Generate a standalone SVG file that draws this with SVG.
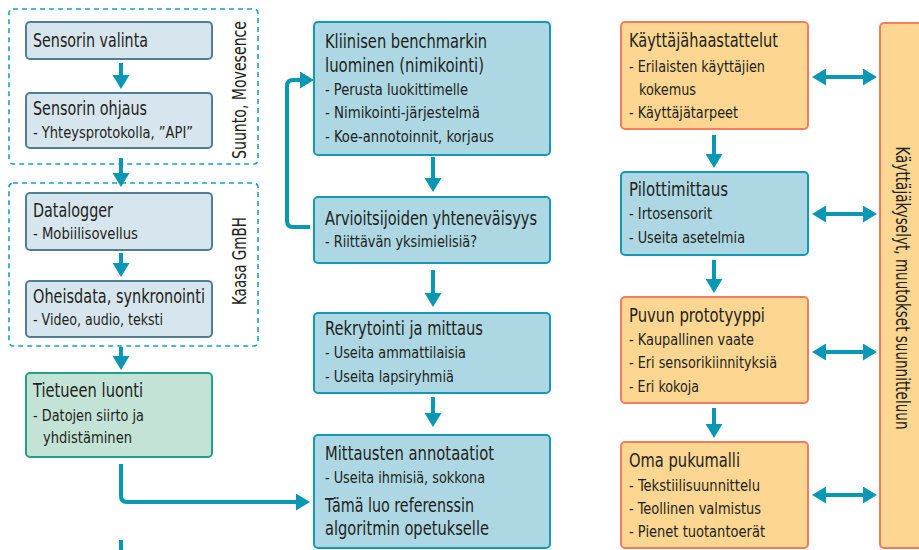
<svg xmlns="http://www.w3.org/2000/svg" width="919" height="550" viewBox="0 0 919 550">
<defs>
<style>
text{font-family:"DejaVu Sans Condensed","Liberation Sans Narrow","Liberation Sans",sans-serif;fill:#231f20}
.t{font-size:19px}
.s{font-size:16.5px}
.grey{fill:#d7e6ee;stroke:#4f7f93;stroke-width:2}
.blue{fill:#acd7e3;stroke:#1598b3;stroke-width:2}
.org{fill:#fdd691;stroke:#f07d60;stroke-width:2}
.grn{fill:#c3e3d6;stroke:#23a085;stroke-width:2}
.dash{fill:none;stroke:#1aa0be;stroke-width:1.6;stroke-dasharray:5 4}
.c{fill:none;stroke:#0a97b4;stroke-width:4}
.a{marker-end:url(#ah)}
.d{marker-end:url(#ah);marker-start:url(#ah)}
</style>
<marker id="ah" viewBox="0 0 14 17" refX="2" refY="8.5" markerWidth="14" markerHeight="17" markerUnits="userSpaceOnUse" orient="auto-start-reverse">
<path d="M0,0 L14,8.5 L0,17 Z" fill="#0a97b4"/>
</marker>
</defs>

<g id="group-suunto">
<rect class="dash" x="9" y="9" width="249" height="155" rx="4"/>
<text class="t" transform="translate(246,90) rotate(-90)" text-anchor="middle" textLength="138" lengthAdjust="spacingAndGlyphs">Suunto, Movesence</text>
</g>
<g id="group-kaasa">
<rect class="dash" x="9" y="183" width="249" height="163" rx="4"/>
<text class="t" transform="translate(246,261) rotate(-90)" text-anchor="middle" textLength="88" lengthAdjust="spacingAndGlyphs">Kaasa GmBH</text>
</g>

<g id="connectors">
<path class="c a" d="M121,63 V77"/>
<path class="c a" d="M121,158 V175"/>
<path class="c a" d="M121,253 V265"/>
<path class="c a" d="M121,347 V358"/>
<path class="c a" d="M121,464 V496 Q121,502 127,502 H298"/>
<path class="c" d="M121,540 V550"/>
<path class="c a" d="M433,157 V180"/>
<path class="c a" d="M433,270 V295"/>
<path class="c a" d="M433,397 V415"/>
<path class="c a" d="M310,227 H293 Q287,227 287,221 V86 Q287,80 293,80 H302"/>
<path class="c a" d="M714,135 V156"/>
<path class="c a" d="M714,260 V281"/>
<path class="c a" d="M714,408 V426"/>
<path class="c d" d="M824,77 H865"/>
<path class="c d" d="M824,214 H865"/>
<path class="c d" d="M824,352 H865"/>
<path class="c d" d="M824,495 H865"/>
</g>

<g id="n-sensorin-valinta">
<rect class="grey" x="26" y="22" width="186" height="37" rx="4"/>
<text class="t" x="33" y="47" textLength="115" lengthAdjust="spacingAndGlyphs">Sensorin valinta</text>
</g>
<g id="n-sensorin-ohjaus">
<rect class="grey" x="26" y="93" width="186" height="55" rx="4"/>
<text class="t" x="33" y="115" textLength="114" lengthAdjust="spacingAndGlyphs">Sensorin ohjaus</text>
<text class="s" x="33" y="138" textLength="160" lengthAdjust="spacingAndGlyphs">- Yhteysprotokolla, ”API”</text>
</g>
<g id="n-datalogger">
<rect class="grey" x="26" y="193" width="186" height="57" rx="4"/>
<text class="t" x="33" y="217" textLength="80" lengthAdjust="spacingAndGlyphs">Datalogger</text>
<text class="s" x="33" y="239" textLength="105" lengthAdjust="spacingAndGlyphs">- Mobiilisovellus</text>
</g>
<g id="n-oheisdata">
<rect class="grey" x="26" y="281" width="186" height="56" rx="4"/>
<text class="t" x="33" y="303" textLength="172" lengthAdjust="spacingAndGlyphs">Oheisdata, synkronointi</text>
<text class="s" x="33" y="325" textLength="130" lengthAdjust="spacingAndGlyphs">- Video, audio, teksti</text>
</g>
<g id="n-tietueen-luonti">
<rect class="grn" x="26" y="373" width="186" height="84" rx="4"/>
<text class="t" x="33" y="397" textLength="110" lengthAdjust="spacingAndGlyphs">Tietueen luonti</text>
<text class="s" x="33" y="421" textLength="111" lengthAdjust="spacingAndGlyphs">- Datojen siirto ja</text>
<text class="s" x="43" y="443" textLength="89" lengthAdjust="spacingAndGlyphs">yhdistäminen</text>
</g>

<g id="n-kliininen">
<rect class="blue" x="314" y="22" width="236" height="133" rx="4"/>
<text class="t" x="325" y="48" textLength="162" lengthAdjust="spacingAndGlyphs">Kliinisen benchmarkin</text>
<text class="t" x="325" y="72" textLength="159" lengthAdjust="spacingAndGlyphs">luominen (nimikointi)</text>
<text class="s" x="325" y="95" textLength="143" lengthAdjust="spacingAndGlyphs">- Perusta luokittimelle</text>
<text class="s" x="325" y="118" textLength="155" lengthAdjust="spacingAndGlyphs">- Nimikointi-järjestelmä</text>
<text class="s" x="325" y="142" textLength="169" lengthAdjust="spacingAndGlyphs">- Koe-annotoinnit, korjaus</text>
</g>
<g id="n-arvioitsijoiden">
<rect class="blue" x="314" y="197" width="236" height="66" rx="4"/>
<text class="t" x="325" y="225" textLength="212" lengthAdjust="spacingAndGlyphs">Arvioitsijoiden yhteneväisyys</text>
<text class="s" x="325" y="247" textLength="152" lengthAdjust="spacingAndGlyphs">- Riittävän yksimielisiä?</text>
</g>
<g id="n-rekrytointi">
<rect class="blue" x="314" y="313" width="236" height="80" rx="4"/>
<text class="t" x="325" y="335" textLength="158" lengthAdjust="spacingAndGlyphs">Rekrytointi ja mittaus</text>
<text class="s" x="325" y="358" textLength="141" lengthAdjust="spacingAndGlyphs">- Useita ammattilaisia</text>
<text class="s" x="325" y="382" textLength="129" lengthAdjust="spacingAndGlyphs">- Useita lapsiryhmiä</text>
</g>
<g id="n-mittausten">
<rect class="blue" x="314" y="435" width="236" height="113" rx="4"/>
<text class="t" x="325" y="460" textLength="169" lengthAdjust="spacingAndGlyphs">Mittausten annotaatiot</text>
<text class="s" x="325" y="483" textLength="160" lengthAdjust="spacingAndGlyphs">- Useita ihmisiä, sokkona</text>
<text class="t" x="325" y="512" textLength="149" lengthAdjust="spacingAndGlyphs">Tämä luo referenssin</text>
<text class="t" x="325" y="535" textLength="164" lengthAdjust="spacingAndGlyphs">algoritmin opetukselle</text>
</g>

<g id="n-kayttajahaastattelut">
<rect class="org" x="621" y="22" width="187" height="107" rx="4"/>
<text class="t" x="629" y="47" textLength="149" lengthAdjust="spacingAndGlyphs">Käyttäjähaastattelut</text>
<text class="s" x="629" y="72" textLength="136" lengthAdjust="spacingAndGlyphs">- Erilaisten käyttäjien</text>
<text class="s" x="639" y="95" textLength="57" lengthAdjust="spacingAndGlyphs">kokemus</text>
<text class="s" x="629" y="118" textLength="109" lengthAdjust="spacingAndGlyphs">- Käyttäjätarpeet</text>
</g>
<g id="n-pilottimittaus">
<rect class="blue" x="621" y="172" width="187" height="83" rx="4"/>
<text class="t" x="629" y="196" textLength="99" lengthAdjust="spacingAndGlyphs">Pilottimittaus</text>
<text class="s" x="629" y="219" textLength="83" lengthAdjust="spacingAndGlyphs">- Irtosensorit</text>
<text class="s" x="629" y="243" textLength="116" lengthAdjust="spacingAndGlyphs">- Useita asetelmia</text>
</g>
<g id="n-puvun-prototyyppi">
<rect class="org" x="621" y="297" width="187" height="106" rx="4"/>
<text class="t" x="629" y="322" textLength="136" lengthAdjust="spacingAndGlyphs">Puvun prototyyppi</text>
<text class="s" x="629" y="345" textLength="125" lengthAdjust="spacingAndGlyphs">- Kaupallinen vaate</text>
<text class="s" x="629" y="368" textLength="148" lengthAdjust="spacingAndGlyphs">- Eri sensorikiinnityksiä</text>
<text class="s" x="629" y="392" textLength="70" lengthAdjust="spacingAndGlyphs">- Eri kokoja</text>
</g>
<g id="n-oma-pukumalli">
<rect class="org" x="621" y="442" width="187" height="106" rx="4"/>
<text class="t" x="629" y="467" textLength="111" lengthAdjust="spacingAndGlyphs">Oma pukumalli</text>
<text class="s" x="629" y="491" textLength="131" lengthAdjust="spacingAndGlyphs">- Tekstiilisuunnittelu</text>
<text class="s" x="629" y="514" textLength="132" lengthAdjust="spacingAndGlyphs">- Teollinen valmistus</text>
<text class="s" x="629" y="537" textLength="136" lengthAdjust="spacingAndGlyphs">- Pienet tuotantoerät</text>
</g>
<g id="n-kayttajakyselyt">
<rect class="org" x="880" y="23" width="60" height="525" rx="4"/>
<text class="t" transform="translate(896,288) rotate(90)" text-anchor="middle" textLength="283" lengthAdjust="spacingAndGlyphs">Käyttäjäkyselyt, muutokset suunnitteluun</text>
</g>
</svg>
